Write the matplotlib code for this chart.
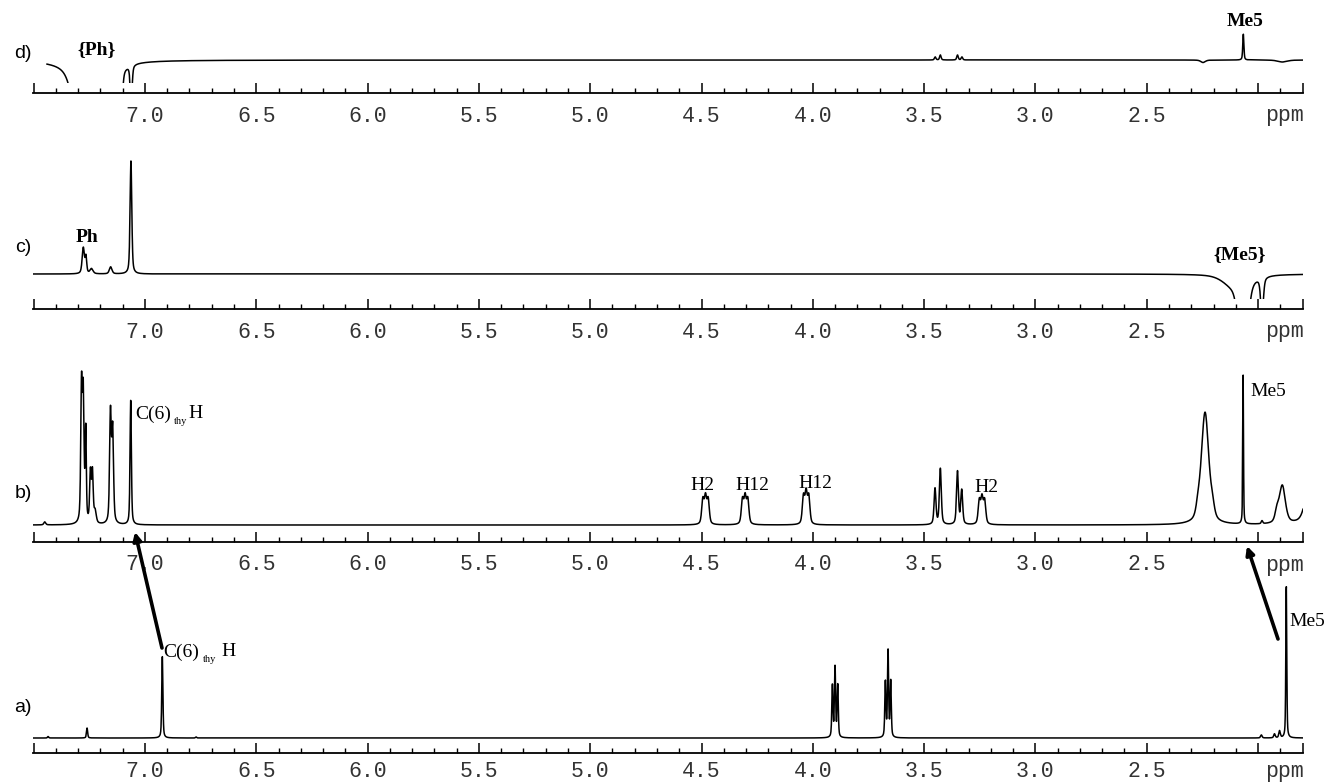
import numpy as np
import matplotlib.pyplot as plt
from matplotlib.patches import Rectangle

W, H = 1335, 784

# ppm window shared by the four traces
ppm_left, ppm_right = 7.503, 1.798
major_ticks = [7.5, 7.0, 6.5, 6.0, 5.5, 5.0, 4.5, 4.0, 3.5, 3.0, 2.5, 2.0, 1.8]
tick_labels = ['', '7.0', '6.5', '6.0', '5.5', '5.0', '4.5', '4.0', '3.5', '3.0', '2.5', '', '']

# peak tables: position (ppm), height, half width (ppm)
# a) plain 1H spectrum
a_pos = [7.435, 7.26, 6.922, 6.77, 3.912, 3.900, 3.888, 3.674, 3.662, 3.650, 1.985, 1.926, 1.903, 1.873]
a_hgt = [1.5, 10, 82, 1, 52, 70, 52, 55, 86, 56, 3, 4, 7, 152]
a_wid = [.003, .003, .003, .003, .003, .003, .003, .003, .003, .003, .004, .004, .004, .0025]

# b) complex
b_pos = [7.45, 7.285, 7.277, 7.266, 7.245, 7.236, 7.224, 7.155, 7.145, 7.064,
         4.494, 4.482, 4.470, 4.316, 4.304, 4.292, 4.042, 4.030, 4.018,
         3.451, 3.427, 3.350, 3.331, 3.252, 3.240, 3.228,
         2.270, 2.238, 2.204, 2.067, 1.982, 1.915, 1.891, 1.760]
b_hgt = [3, 135, 125, 90, 50, 50, 12, 110, 92, 125,
         24, 26, 24, 24, 26, 24, 27, 30, 27,
         36, 56, 53, 34, 23, 25, 23,
         8, 112, 9, 150, 3, 10, 38, 60]
b_wid = [.005, .004, .004, .003, .004, .004, .006, .0045, .0045, .0035,
         .006, .006, .006, .006, .006, .006, .006, .006, .006,
         .005, .005, .005, .005, .006, .006, .006,
         .01, .02, .01, .002, .004, .01, .016, .025]

# c) NOE, Me5 irradiated
c_pos = [7.277, 7.265, 7.24, 7.154, 7.063, 2.12, 2.067, 1.982]
c_hgt = [26, 16, 5, 7, 113, -8, -120, -40]
c_wid = [.006, .004, .008, .007, .0045, .05, .02, .007]

# d) NOE, Ph irradiated
d_pos = [7.27, 7.14, 7.105, 7.062, 3.45, 3.427, 3.35, 3.33, 2.247, 2.066, 1.89]
d_hgt = [-150, -80, -30, -40, 3, 5, 5, 3, -2.5, 26, -2]
d_wid = [.04, .02, .006, .005, .004, .004, .004, .004, .012, .003, .025]


def trace(ppm, pos, hgt, wid):
    y = np.zeros_like(ppm)
    for p, h, w in zip(pos, hgt, wid):
        d2 = ((ppm - p) / w) ** 2
        y += h * (0.5 / (1 + d2) + 0.5 * np.exp(-np.log(2) * d2))
    return y


fig = plt.figure(figsize=(W / 100, H / 100), dpi=100)


def add_panel(top, base, axis, pos, hgt, wid, start=ppm_left, pad=9):
    # pixel rows: top of axes, spectrum baseline, scale line
    ax = fig.add_axes([33 / W, 1 - axis / H, 1270 / W, (axis - top) / H])
    ax.set_xlim(ppm_left, ppm_right)
    ax.set_ylim(base - axis, base - top)
    ppm = np.linspace(ppm_right, start, 9000)
    line, = ax.plot(ppm, trace(ppm, pos, hgt, wid), color='black', lw=1.1)
    floor = base - axis + 10
    clip = Rectangle((ppm_right, floor), ppm_left - ppm_right, 1000, transform=ax.transData)
    line.set_clip_path(clip)
    for s in ['top', 'left', 'right']:
        ax.spines[s].set_visible(False)
    ax.spines['bottom'].set_linewidth(1.3)
    ax.set_yticks([])
    ax.set_xticks(major_ticks)
    ax.set_xticklabels(tick_labels, fontfamily='Liberation Mono', fontsize=15.5, color='#333333')
    ax.set_xticks(np.arange(1.9, 7.45, 0.1), minor=True)
    ax.tick_params(axis='x', which='major', direction='in', length=7, width=1.1, pad=pad)
    ax.tick_params(axis='x', which='minor', direction='in', length=3.5, width=1.0)
    ax.patch.set_alpha(0)
    # unit label sits in the slot of the 2.0 tick, flush with the right end
    fig.text(1304 / W, 1 - (axis + pad * 100 / 72) / H, 'ppm', ha='right', va='top',
             family='Liberation Mono', fontsize=15.5, color='#333333')
    return ax


add_panel(0, 60, 93, d_pos, d_hgt, d_wid, start=7.44)
add_panel(125, 274, 309, c_pos, c_hgt, c_wid)
add_panel(360, 525, 542, b_pos, b_hgt, b_wid)
add_panel(570, 738, 753, a_pos, a_hgt, a_wid, pad=6)


def ptext(x, y, s, **kw):
    fig.text(x / W, 1 - y / H, s, **kw)


serif = dict(family='Liberation Serif', fontsize=14)
for lab, yy in [('d)', 53), ('c)', 247), ('b)', 494), ('a)', 708)]:
    ptext(23, yy, lab, ha='center', va='center', family='Liberation Sans', fontsize=14)

ptext(97, 50, '{Ph}', ha='center', va='center', weight='bold', **serif)
ptext(1245, 21, 'Me5', ha='center', va='center', weight='bold', **serif)
ptext(87, 237, 'Ph', ha='center', va='center', weight='bold', **serif)
ptext(1240, 255, '{Me5}', ha='center', va='center', weight='bold', **serif)
for lab, xx, yy in [('H2', 702, 485), ('H12', 752, 485), ('H12', 815, 483), ('H2', 986, 487)]:
    ptext(xx, yy, lab, ha='center', va='center', **serif)
ptext(1250, 391, 'Me5', ha='left', va='center', **serif)
ptext(1289, 622, 'Me5', ha='left', va='center', **serif)

# C(6)thy H labels, subscript drawn as its own small text
for x0, y0, x_sub, x_h in [(135, 414, 174, 188), (163, 652, 203, 221)]:
    ptext(x0, y0, 'C(6)', ha='left', va='center', **serif)
    ptext(x_sub, y0 + 8, 'thy', ha='left', va='center', family='Liberation Serif', fontsize=7.5)
    ptext(x_h, y0, 'H', ha='left', va='center', **serif)

over = fig.add_axes([0, 0, 1, 1], zorder=5)
over.set_xlim(0, W)
over.set_ylim(H, 0)
over.axis('off')
over.patch.set_alpha(0)
arrow = dict(arrowstyle='-|>', lw=2.6, color='black', mutation_scale=12, shrinkA=0, shrinkB=0)
over.annotate('', xy=(135, 532), xytext=(162, 648), arrowprops=arrow)
over.annotate('', xy=(1247, 546), xytext=(1278, 639), arrowprops=arrow)

fig.savefig('out.png', dpi=100)
